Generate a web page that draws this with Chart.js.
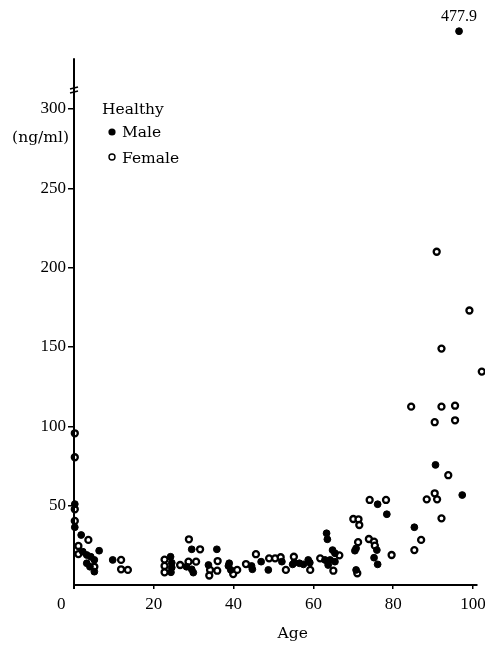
<!DOCTYPE html>
<html>
<head>
<meta charset="utf-8">
<script src="https://cdn.jsdelivr.net/npm/chart.js@4/dist/chart.umd.min.js"></script>
<style>
  html, body { margin: 0; padding: 0; background: #fff; }
  #wrap { width: 485px; height: 647px; position: relative; }
</style>
</head>
<body>
<div id="wrap"><canvas id="c" width="485" height="647"></canvas></div>
<script>
// ---- data ----
const maleAge = [0.2,0.2,1.8,2.2,3.2,4.2,5.1,3.2,4.0,5.1,6.3,9.7,
  24.2,24.5,24.5,24.3,28.2,29.5,29.5,29.9,33.7,35.8,38.7,39.3,38.9,
  44.5,44.7,46.9,48.7,52.1,54.8,55.2,56.5,57.5,58.7,59.1,
  63.3,63.5,64.8,64.2,65.4,63.6,62.9,63.7,65.4,
  70.7,70.4,70.7,75.9,75.2,76.1,76.1,78.4,85.3,90.6,97.3];
const maleVal = [51,36.4,31.5,21,18.9,17.8,15.8,13.7,11.5,8.4,21.6,15.8,
  17.8,14,11,8,11.5,22.5,9.9,7.8,12.6,22.5,12,9.5,13.7,
  12,9.9,14.7,9.5,14.7,13,14.1,13.7,13,15.8,14.1,
  32.6,28.8,22,15.8,14.7,14.7,15.8,12.6,20,
  23.1,21.6,9.5,22,17.2,13,50.9,44.6,36.4,75.7,56.7];

const femaleAge = [0.2,0.2,0.2,0.2,3.6,1.1,1.1,5.1,11.8,11.8,13.5,
  22.7,22.7,22.7,26.6,28.8,31.6,28.7,30.6,34.1,33.9,36.0,35.9,39.9,40.9,
  43.1,45.6,48.9,50.4,51.8,53.1,55.1,59.2,61.7,65.0,66.5,
  70.0,71.3,71.5,71.2,71.0,73.9,75.2,75.4,79.6,74.1,78.2,
  84.5,85.3,87.0,88.4,90.4,91.0,92.1,93.8,90.4,92.1,95.5,95.5,90.9,99.1,92.1,102.2];
const femaleVal = [95.6,80.5,47.7,40.4,28.4,24.6,19.5,11.5,15.8,9.9,9.5,
  16,12,8,12.6,28.8,22.5,14.7,14.7,9.5,6,15.1,9,6.9,9.5,
  13.2,19.4,16.8,16.8,17.5,9.5,17.8,9.5,16.8,9,18.7,
  41.6,41.4,37.8,27,7.4,29,27.3,24.8,18.9,53.6,53.6,
  112.4,22,28.4,54,57.8,54,42,69.2,102.6,112.4,113,103.8,210,173,149,134.5];

// off-scale male value, shown above the axis break
const outlierAge = [96.5];
const outlierVal = [477.9];
const outlierShownAt = 349;   // where it is placed above the broken axis

const xTicks = [0,20,40,60,80,100];
const yTicks = [50,100,150,200,250,300];
const axisTop = 332;
const breakAt = 312;

const serifNum = '"Liberation Serif", "Times New Roman", serif';
const serifTxt = '"DejaVu Serif", serif';

const pts = (xs, ys) => xs.map((x, i) => ({x, y: ys[i]}));

const extras = {
  id: 'extras',
  afterDraw(chart) {
    const ctx = chart.ctx;
    const xs = chart.scales.x, ys = chart.scales.y;
    const ax = xs.getPixelForValue(0);
    ctx.save();
    ctx.strokeStyle = '#000';
    ctx.fillStyle = '#000';
    // y axis line (broken, stops below the off-scale point)
    ctx.lineWidth = 2;
    ctx.beginPath();
    ctx.moveTo(ax, ys.getPixelForValue(0) + 4);
    ctx.lineTo(ax, ys.getPixelForValue(axisTop));
    ctx.stroke();
    // axis break marks
    ctx.lineWidth = 1.6;
    const yb = ys.getPixelForValue(breakAt);
    [-2, 2].forEach(d => {
      ctx.beginPath();
      ctx.moveTo(ax - 4, yb + d + 1);
      ctx.lineTo(ax + 4, yb + d - 1);
      ctx.stroke();
    });
    // outlier label
    const p = chart.getDatasetMeta(2).data[0];
    ctx.font = '16px ' + serifNum;
    ctx.textAlign = 'center';
    ctx.textBaseline = 'alphabetic';
    ctx.fillText(String(outlierVal[0]), p.x, p.y - 10);
    // y unit
    ctx.font = '15.5px ' + serifTxt;
    ctx.textAlign = 'right';
    ctx.fillText('(ng/ml)', 69, 142);
    // legend
    ctx.textAlign = 'left';
    ctx.fillText('Healthy', 102, 114);
    ctx.fillText('Male', 122, 137);
    ctx.fillText('Female', 122, 163);
    ctx.beginPath();
    ctx.arc(112, 132, 3.6, 0, Math.PI * 2);
    ctx.fill();
    ctx.beginPath();
    ctx.arc(112, 157, 3.0, 0, Math.PI * 2);
    ctx.lineWidth = 1.4;
    ctx.stroke();
    ctx.restore();
  }
};

new Chart(document.getElementById('c'), {
  type: 'scatter',
  data: {
    datasets: [
      { label: 'Male', data: pts(maleAge, maleVal), pointRadius: 3.4, borderWidth: 1,
        backgroundColor: '#000', borderColor: '#000', clip: false },
      { label: 'Female', data: pts(femaleAge, femaleVal), pointRadius: 3.0, borderWidth: 2.3,
        backgroundColor: '#fff', borderColor: '#000', clip: false },
      { label: 'Male (off scale)', data: pts(outlierAge, [outlierShownAt]), pointRadius: 3.4, borderWidth: 1,
        backgroundColor: '#000', borderColor: '#000', clip: false }
    ]
  },
  options: {
    responsive: false,
    animation: false,
    layout: { padding: { top: 22, right: 8, bottom: 0, left: 0 } },
    plugins: { legend: { display: false }, tooltip: { enabled: false } },
    scales: {
      x: {
        type: 'linear', min: 0, max: 101,
        afterBuildTicks: s => { s.ticks = xTicks.map(v => ({value: v})); },
        afterFit: s => { s.height = 62; s.paddingLeft = 0; s.paddingRight = 0; },
        grid: { drawOnChartArea: false, drawTicks: true, tickLength: 4, color: '#000', lineWidth: 1.5 },
        border: { display: true, color: '#000', width: 2 },
        ticks: {
          color: '#000', font: { family: serifNum, size: 17 }, padding: 5,
          maxRotation: 0, autoSkip: false,
          callback: v => v === 0 ? '0      ' : String(v)
        },
        title: { display: true, text: '\u00a0\u00a0\u00a0\u00a0\u00a0\u00a0\u00a0Age', color: '#000',
          font: { family: serifTxt, size: 15.5 }, padding: { top: 0, bottom: 4 } }
      },
      y: {
        type: 'linear', min: 0, max: 354.8,
        afterBuildTicks: s => { s.ticks = yTicks.map(v => ({value: v})); },
        afterFit: s => { s.width = 74; s.paddingTop = 0; s.paddingBottom = 0; },
        grid: { drawOnChartArea: false, drawTicks: true, tickLength: 6, color: '#000', lineWidth: 1.5 },
        border: { display: false },
        ticks: { color: '#000', font: { family: serifNum, size: 17 }, padding: 2 }
      }
    }
  },
  plugins: [extras]
});
</script>
</body>
</html>
